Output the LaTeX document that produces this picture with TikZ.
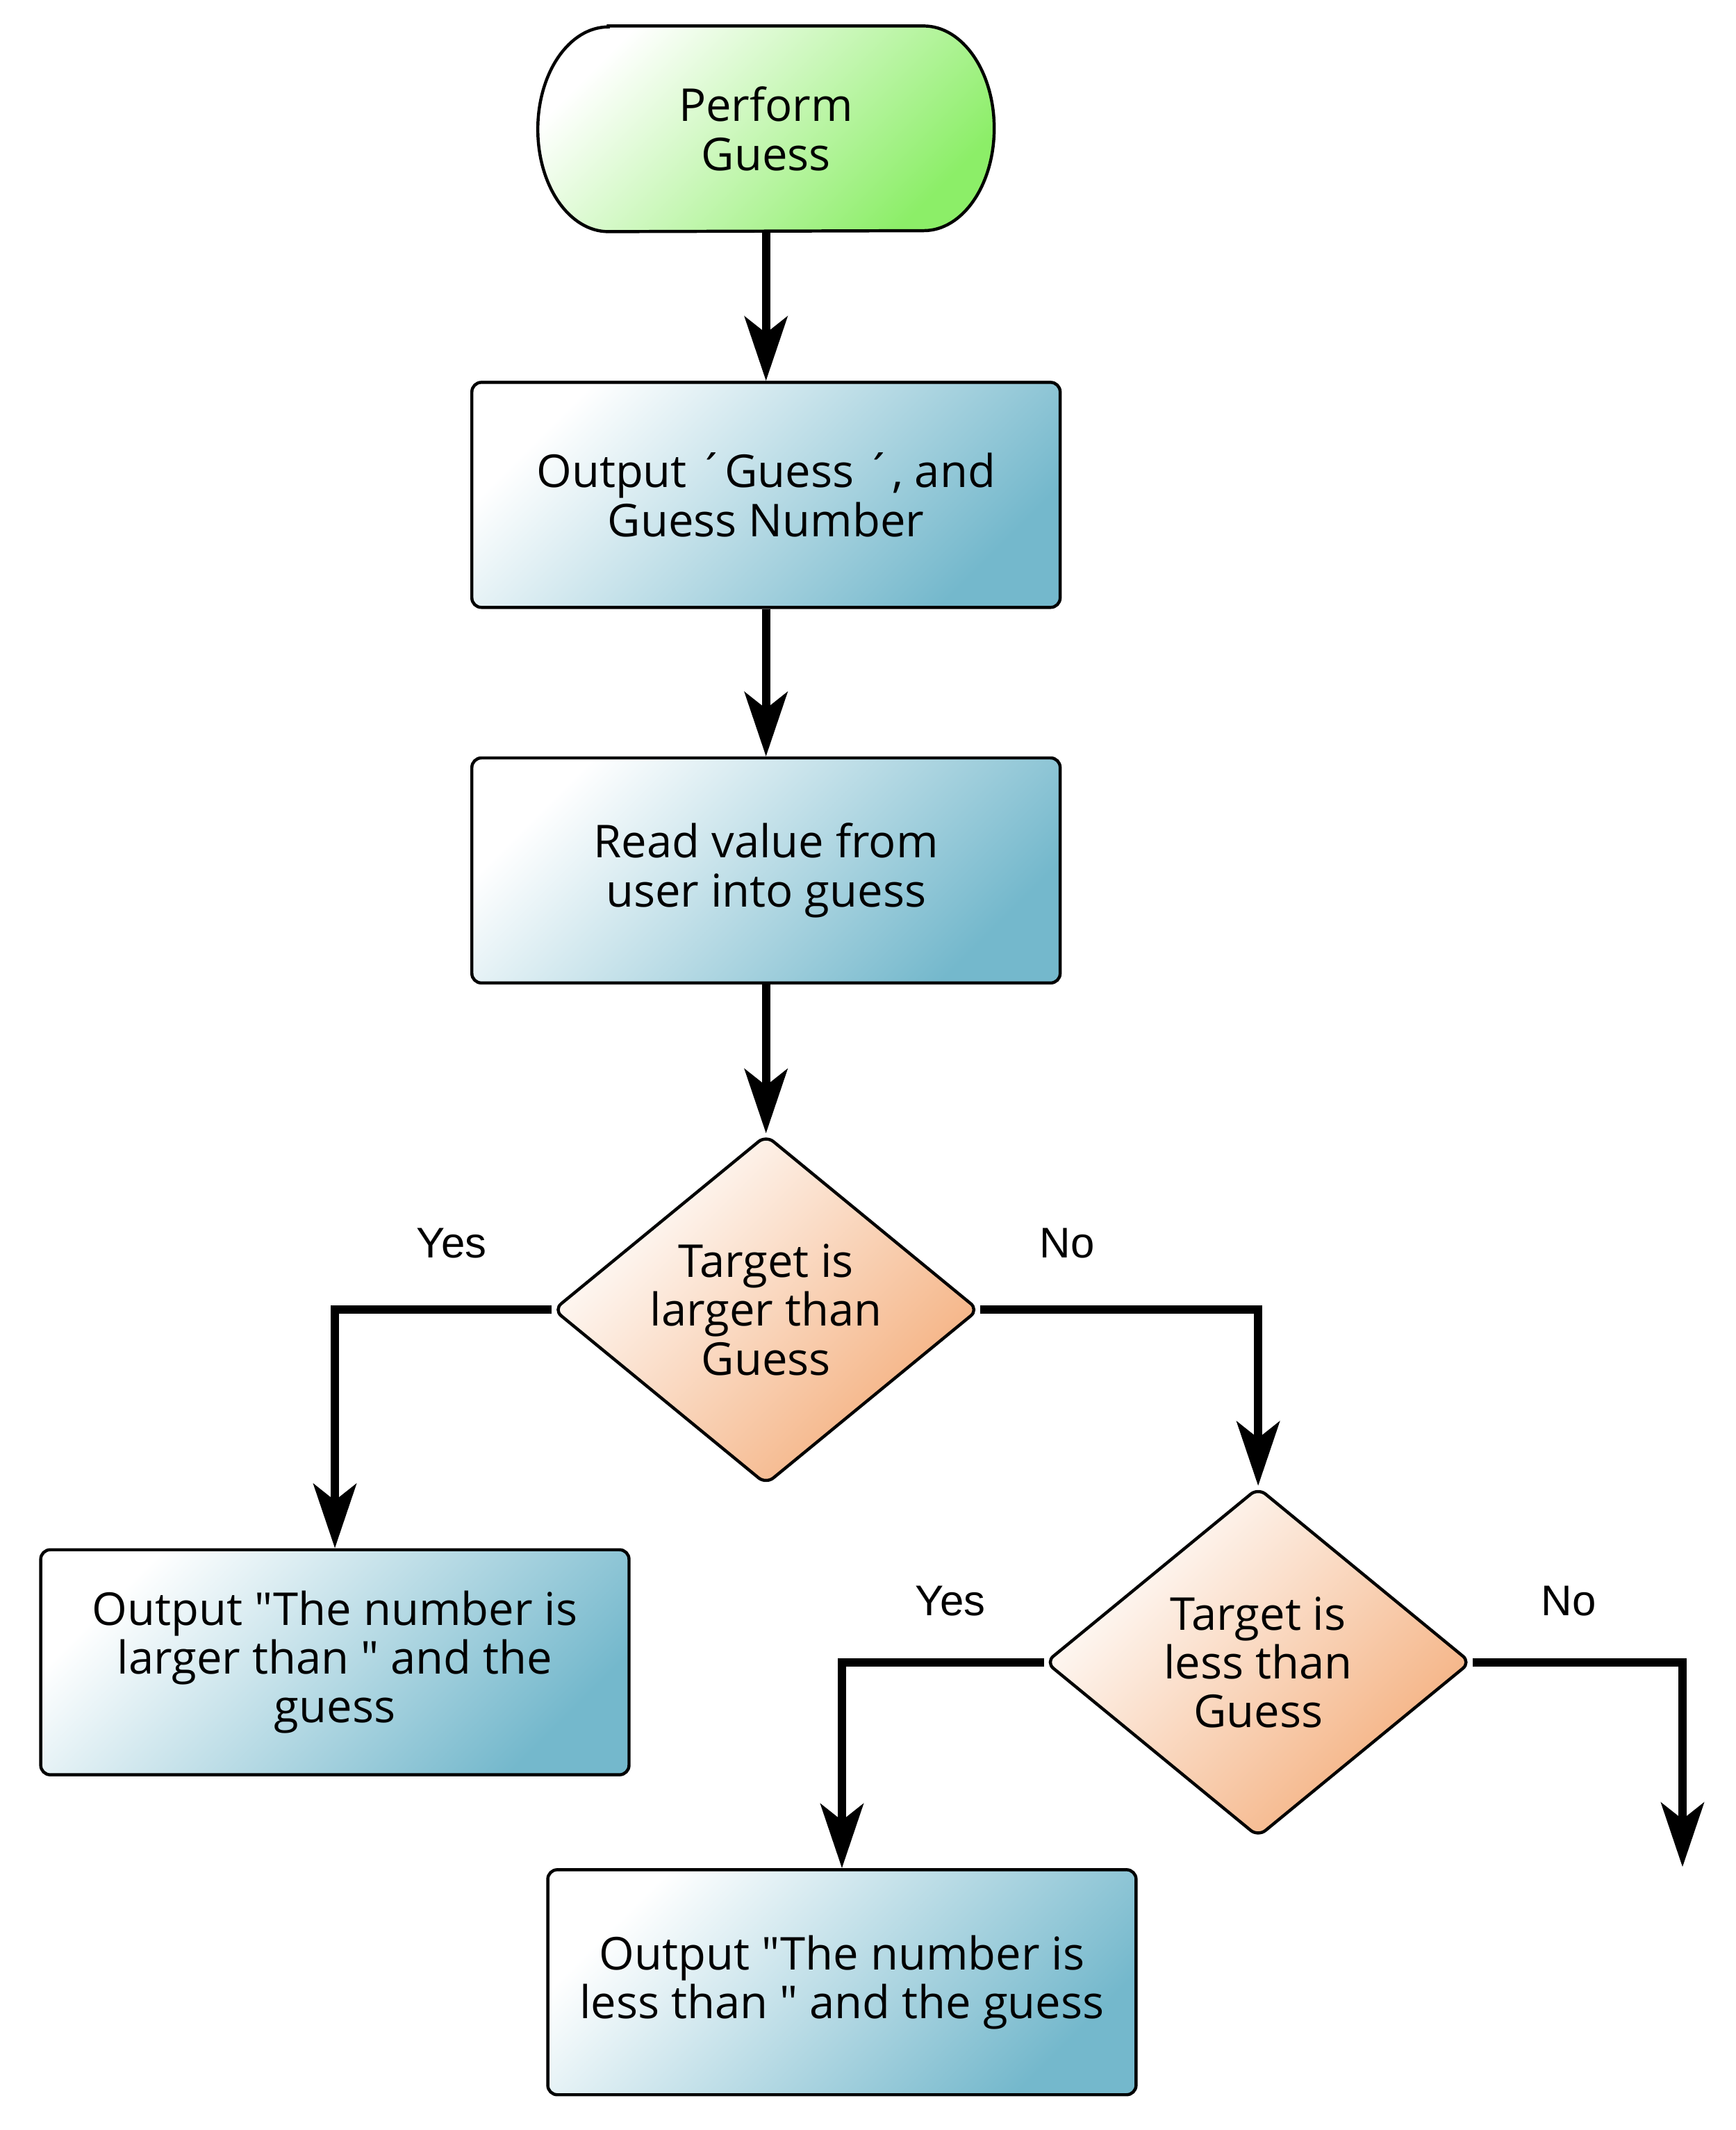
\documentclass[tikz,border=0pt]{standalone}
\usepackage{fontspec}
\setmainfont{Open Sans}[Ligatures=TeXOff]
\newfontfamily\labelfont{Liberation Sans}
\usetikzlibrary{shapes.geometric,arrows.meta,backgrounds}

\definecolor{procblue}{HTML}{74B8CC}
\definecolor{decorange}{HTML}{F4AE7C}
\definecolor{startgreen}{HTML}{8CEE68}

\tikzset{
	flowline/.style={line width=3.4pt, -{Stealth[length=27pt, width=18pt, inset=7pt]}},
	nodetext/.style={align=center, font=\fontsize{19}{20.5}\selectfont},
	procbox/.style={nodetext, draw, line width=1.3pt, rounded corners=4pt, minimum width=8.68cm, minimum height=3.32cm, top color=white, bottom color=procblue, shading angle=45},
	decision/.style={nodetext, diamond, draw, line width=1.3pt, rounded corners=4pt, aspect=1.22, inner sep=0pt, minimum width=6.28cm, minimum height=5.16cm, top color=white, bottom color=decorange, shading angle=45},
	startbox/.style={nodetext, minimum width=6.72cm, minimum height=3.02cm},
	branchlabel/.style={font=\labelfont\fontsize{18}{20}\selectfont}
}

\begin{document}
\begin{tikzpicture}[x=0.02cm, y=-0.02cm]
	\useasboundingbox (0, 0) rectangle (1280, 1571);
	\node [startbox] (start) at (565, 95) {Perform\\Guess};
	% the stadium outline goes behind the text
	\begin{scope}[on background layer]
	   \draw [line width=1.3pt, top color=white, bottom color=startgreen, shading angle=45] ([xshift=1.04cm]start.north west) -- ([xshift=-1.04cm]start.north east) arc [start angle=90, end angle=-90, x radius=1.04cm, y radius=1.51cm] -- ([xshift=1.04cm]start.south west) arc [start angle=270, end angle=90, x radius=1.04cm, y radius=1.51cm] -- cycle;
	\end{scope}
	\node [procbox] (output) at (565, 365) {Output ´Guess ´, and\\Guess Number};
	\node [procbox] (read) at (565, 642) {Read value from\\user into guess};
	\node [decision] (larger) at (565, 966) {Target is\\larger than\\Guess};
	\node [procbox] (largerout) at (247, 1226) {Output "The number is\\larger than " and the\\guess};
	\node [decision] (less) at (928, 1226) {Target is\\less than\\Guess};
	\node [procbox] (lessout) at (621, 1462) {Output "The number is\\less than " and the guess};
	\coordinate (noend) at (1241, 1377);

	\draw [flowline] (start.south) -- (output.north);
	\draw [flowline] (output.south) -- (read.north);
	\draw [flowline] (read.south) -- (larger.north);
	\draw [flowline] (larger.west) -| (largerout.north);
	\draw [flowline] (larger.east) -| (less.north);
	\draw [flowline] (less.west) -| (lessout.north);
	\draw [flowline] (less.east) -| (noend);

	\node [branchlabel] (yes1) at (333, 917) {Yes};
	\node [branchlabel] (no1) at (787, 917) {No};
	\node [branchlabel] (yes2) at (701, 1181) {Yes};
	\node [branchlabel] (no2) at (1157, 1181) {No};
\end{tikzpicture}
\end{document}
